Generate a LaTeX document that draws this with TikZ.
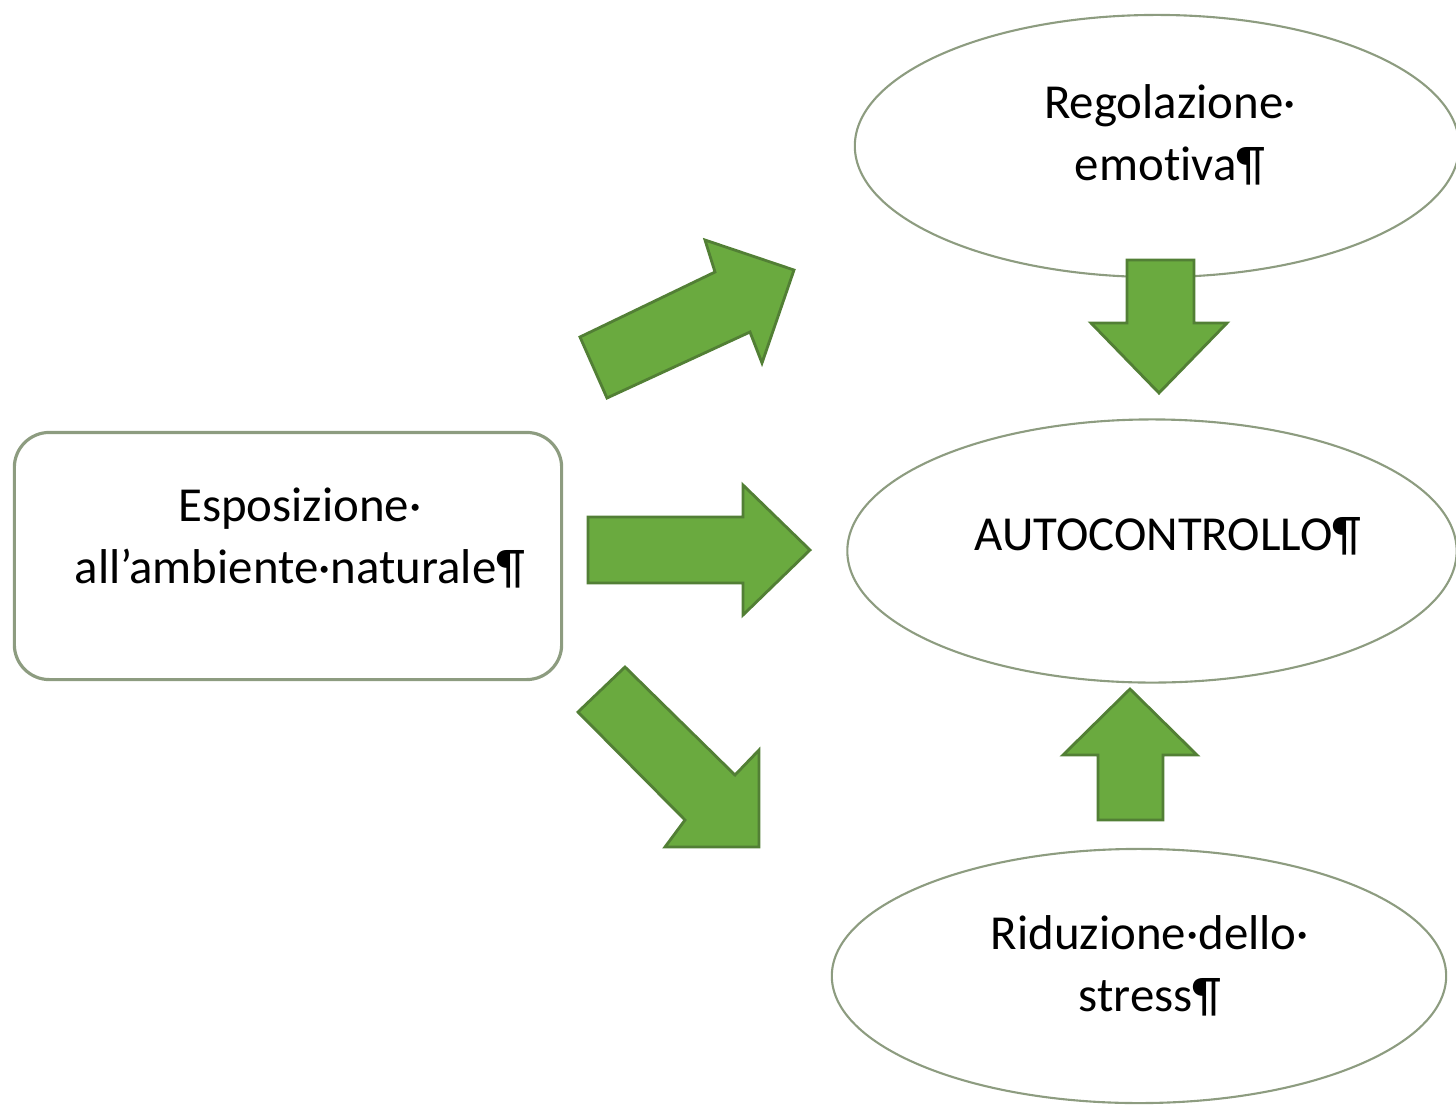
\documentclass[tikz,border=0pt]{standalone}
\usepackage{fontspec}
\setmainfont{Carlito}[Ligatures=NoCommon]
\usepackage[rgb]{xcolor}
\usepackage{tikz}
\usetikzlibrary{shapes.geometric}

\definecolor{arrowgreen}{HTML}{6AAA3F}
\definecolor{arrowedge}{HTML}{527F35}
\definecolor{shapeedge}{HTML}{8D9C80}

\begin{document}
\begin{tikzpicture}[x=0.01cm, y=-0.01cm,
  bubble/.style={ellipse, draw=shapeedge, line width=0.6pt, inner sep=0pt},
  roundbox/.style={rectangle, rounded corners=0.35cm, draw=shapeedge, line width=0.9pt, minimum width=5.47cm, minimum height=2.47cm},
  txt/.style={align=center, inner sep=0pt, font=\fontsize{13.9}{17.6}\selectfont},
  bigarrow/.style={fill=arrowgreen, draw=arrowedge, line width=0.8pt, line join=miter}]

\useasboundingbox (0,0) rectangle (1456,1105);

% source box
\node [roundbox] (espo) at (288,556) {};
\node [txt] (espoT) at (300,538) {Esposizione·\\all’ambiente·naturale¶};

% ellipses
\node [bubble, minimum width=6.04cm, minimum height=2.62cm] (reg) at (1157,146) {};
\node [txt] (regT) at (1170,135) {Regolazione·\\emotiva¶};

\node [bubble, minimum width=6.09cm, minimum height=2.63cm] (auto) at (1152,551) {};
\node [txt] (autoT) at (1168,536) {AUTOCONTROLLO¶};

\node [bubble, minimum width=6.14cm, minimum height=2.54cm] (stress) at (1139,976) {};
\node [txt] (stressT) at (1150,966) {Riduzione·dello·\\stress¶};

% block arrows
\draw [bigarrow] (580,337) -- (607,398) -- (750,332) -- (762,363) -- (794,270) -- (705,240) -- (715,272) -- cycle;
\draw [bigarrow] (588,517) -- (743,517) -- (743,485) -- (810,550) -- (743,615) -- (743,583) -- (588,583) -- cycle;
\draw [bigarrow] (625,667) -- (735,775) -- (759,750) -- (759,847) -- (665,847) -- (685,820) -- (578,712) -- cycle;
\draw [bigarrow] (1127,260) -- (1194,260) -- (1194,323) -- (1227,323) -- (1159,393) -- (1091,323) -- (1127,323) -- cycle;
\draw [bigarrow] (1098,820) -- (1163,820) -- (1163,755) -- (1197,755) -- (1130,689) -- (1063,755) -- (1098,755) -- cycle;
\end{tikzpicture}
\end{document}
